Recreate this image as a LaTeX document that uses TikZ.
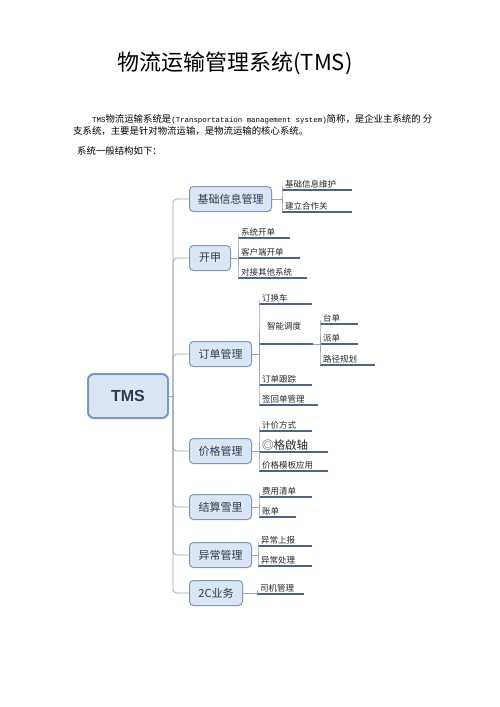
\documentclass[tikz,border=0pt]{standalone}
\usepackage{fontspec}
\newfontfamily\cjk{Noto Sans CJK SC}
\newfontfamily\lsans{Liberation Sans}
\newfontfamily\lmono{Liberation Mono}
\newcommand{\bodycjk}{\cjk\fontsize{9.4}{11}\selectfont}
\newcommand{\bodylat}{\lmono\fontsize{7.4}{9}\selectfont}
\definecolor{boxfill}{HTML}{DCE6F2}
\definecolor{boxdraw}{HTML}{7A98C0}
\definecolor{textdark}{HTML}{2B3A4F}
\definecolor{uline}{HTML}{4E6482}
\definecolor{linkgray}{HTML}{9AA4B2}

\begin{document}
\begin{tikzpicture}
[x=1pt,y=-1pt,
  rootbox/.style={shape=rectangle,rounded corners=6pt,draw=boxdraw,fill=boxfill,
    line width=2pt,minimum width=80pt,minimum height=44pt,
    font=\lsans\bfseries\fontsize{16}{18}\selectfont,text=textdark},%
  branchbox/.style={shape=rectangle,rounded corners=4pt,draw=boxdraw,fill=boxfill,
    line width=1pt,minimum height=25pt,anchor=west,
    font=\cjk\fontsize{11}{13}\selectfont,text=textdark},%
  leafnode/.style={anchor=south west,inner xsep=3pt,inner ysep=1.5pt,align=left,
    font=\cjk\fontsize{8.5}{10}\selectfont,text=black!85},%
  leafline/.style={-,draw=uline,line width=1.6pt},%
  linkline/.style={-,draw=linkgray,line width=0.8pt,rounded corners=4pt}]
\useasboundingbox (0,0) rectangle (500,707);
%% heading and text
\node (title) at (235,63) {\cjk\fontsize{22}{26}\selectfont 物流运输管理系统(TMS)};
\node (para1) [anchor=west,inner sep=0pt] at (92,119)
  {\bodylat TMS\bodycjk 物流运输系统是\bodylat(Transportataion management system)\bodycjk 简称，是企业主系统的 分};
\node (para2) [anchor=west,inner sep=0pt] at (73,131) {\bodycjk 支系统，主要是针对物流运输，是物流运输的核心系统。};
\node (para3) [anchor=west,inner sep=0pt] at (77,151) {\bodycjk 系统一般结构如下：};
%% root
\node (tms) [rootbox] at (128,396) {TMS};
%% branch boxes
\foreach \nodename/\y/\w/\txt in {
  b1/199/82/基础信息管理, b2/258/41/开甲, b3/354/62/订单管理,
  b4/451/62/价格管理, b5/507/62/结算雪里, b6/555/62/异常管理, b7/593/53/2C业务}
{
  \node (\nodename) [branchbox,minimum width=\w pt] at (189,\y) {\txt};
}
%% trunk
\coordinate (trunk) at (173,396);
\draw[linkline] (tms.east) -- (trunk);
\foreach \endnode in {b1,b2,b3,b4,b5,b6,b7}
{
  \draw[linkline] (trunk) |- (\endnode.west);
}
%% group hubs
\coordinate (h1) at (282,199);
\coordinate (h2) at (238,258);
\coordinate (h3) at (259,354);
\coordinate (h4) at (259,451);
\coordinate (h5) at (259,507);
\coordinate (h6) at (258,555);
\coordinate (h7) at (257,593);
\coordinate (h8) at (320,344);
%% leaves
\foreach \nodename/\x/\y/\len/\txt in {
  c11/282/190/70/基础信息维护, c12/282/212/70/建立合作关,
  c21/238/238/52/系统开单, c22/238/258/62/客户端开单, c23/238/278/69/对接其他系统,
  c31/259/304/53/订换车, c33/259/385/53/订单跟踪, c34/259/405/59/签回单管理,
  d1/320/324/38/台单, d2/320/344/38/派单, d3/320/365/55/路径规划,
  c41/259/431/53/计价方式, c43/259/471/69/价格模板应用,
  c51/259/497/53/费用清单, c52/259/517/37/账单,
  c61/258/546/54/异常上报, c62/258/566/54/异常处理,
  c71/257/594/47/司机管理}
{
  \node (\nodename) [leafnode,text width=\len pt - 6pt] at (\x,\y) {\txt};
  \draw[leafline] (\nodename.south west) -- (\nodename.south east);
}
\node (c32) [leafnode,text width=48pt,minimum height=36pt] at (259,344) {\hspace*{5pt}智能调度};
\draw[leafline] (c32.south west) -- (c32.south east);
\node (c42) [leafnode,text width=63pt,font=\cjk\fontsize{11.5}{13}\selectfont] at (259,452) {◎格啟轴};
\draw[leafline] (c42.south west) -- (c42.south east);
%% links box -> hub -> leaves
\foreach \startnode/\hubname in {b1/h1, b2/h2, b3/h3, b4/h4, b5/h5, b6/h6, b7/h7}
{
  \draw[linkline] (\startnode.east) -- (\hubname);
}
\draw[linkline] (c32.south east) -- (h8);
\foreach \hubname/\endnode in {
  h1/c11, h1/c12, h2/c21, h2/c22, h2/c23, h3/c31, h3/c32, h3/c33, h3/c34,
  h8/d1, h8/d2, h8/d3, h4/c41, h4/c42, h4/c43, h5/c51, h5/c52,
  h6/c61, h6/c62, h7/c71}
{
  \draw[linkline] (\hubname) |- (\endnode.south west);
}
\end{tikzpicture}
\end{document}
